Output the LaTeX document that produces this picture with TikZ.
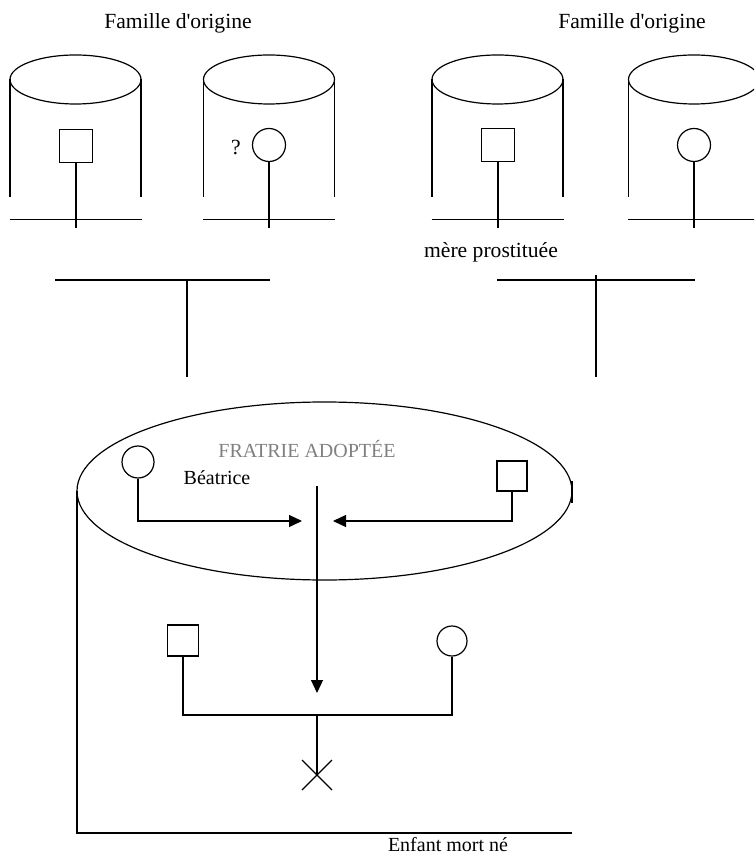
\documentclass[tikz,border=0pt]{standalone}
\usepackage{fontspec}
\setmainfont{Liberation Serif}[Ligatures=TeXOff]
\usetikzlibrary{arrows.meta}

\tikzset{
    homme/.style={draw, minimum size=16.5pt, inner sep=0pt},
    femme/.style={draw, circle, minimum size=16.5pt, inner sep=0pt},
    fleche/.style={-{Triangle[length=6.5pt,width=6pt]}},
    texte/.style={font=\fontsize{10.8}{13}\selectfont, inner sep=0pt},
    petit/.style={font=\fontsize{10}{12}\selectfont, inner sep=0pt},
}

\begin{document}
\begin{tikzpicture}[x=0.5pt,y=-0.5pt,line width=0.6pt]
    \clip (0,0) rectangle (754,854);

    % Families of origin (cylinders)
    \foreach \cx in {75.5,269,497.5,694}{
        \draw (\cx,79.5) ellipse (65.5 and 24.5);
        \draw (\cx-65.5,79.5) -- (\cx-65.5,197);
        \draw (\cx+65.5,79.5) -- (\cx+65.5,197);
        \draw (\cx-66,219.5) -- (\cx+66,219.5);
    }
    \node[texte] (titre1) at (178,23) {Famille d'origine};
    \node[texte] (titre2) at (632,23) {Famille d'origine};

    % Parents
    \coordinate (bas) at (0,228);
    \node[homme] (pere1) at (76,146) {};
    \node[femme] (mere1) at (269,145) {};
    \node[homme] (pere2) at (498,145) {};
    \node[femme] (mere2) at (694,145) {};
    \foreach \p in {pere1,mere1,pere2,mere2}
        \draw (\p.south) -- (\p.south |- bas);
    \node[texte] (doute) at (236,148) {?};
    \node[texte] (prostituee) at (491,252) {mère prostituée};

    % Couples
    \draw (55,280) -- (270,280);
    \draw (187,280) -- (187,377);
    \draw (497,280) -- (695,280);
    \draw (596,275) -- (596,377);

    % Adopted siblings (big cylinder)
    \draw (324.5,491) ellipse (247.5 and 89);
    \draw (77,491) -- (77,833) -- (572,833);
    \draw (572,481) -- (572,503);
    \node[petit, text=gray] (fratrie) at (307,449) {FRATRIE ADOPTÉE};
    \node[petit] (nom) at (217,478) {Béatrice};

    \node[femme, minimum size=16pt] (beatrice) at (138,462) {};
    \node[homme, minimum size=15pt] (frere) at (512,476) {};
    \coordinate (gauche) at (302,521);
    \coordinate (droite) at (333,521);
    \coordinate (milieu) at (317,486);
    \coordinate (pointe) at (317,693);
    \draw[fleche] (beatrice.south) |- (gauche);
    \draw[fleche] (frere.south) |- (droite);
    \draw[fleche] (milieu) -- (pointe);

    % Stillborn child
    \node[homme, minimum size=15.5pt] (mari) at (183,640.5) {};
    \node[femme, minimum size=15pt] (epouse) at (452,641) {};
    \coordinate (union) at (317,715);
    \coordinate (enfant) at (317,775);
    \draw (mari.south) |- (union) -| (epouse.south);
    \draw (union) -- (enfant);
    \draw (enfant) ++(-15,-15) -- ++(30,30);
    \draw (enfant) ++(-15,15) -- ++(30,-30);
    \node[petit] (mortne) at (448,845) {Enfant mort né};

\end{tikzpicture}
\end{document}
